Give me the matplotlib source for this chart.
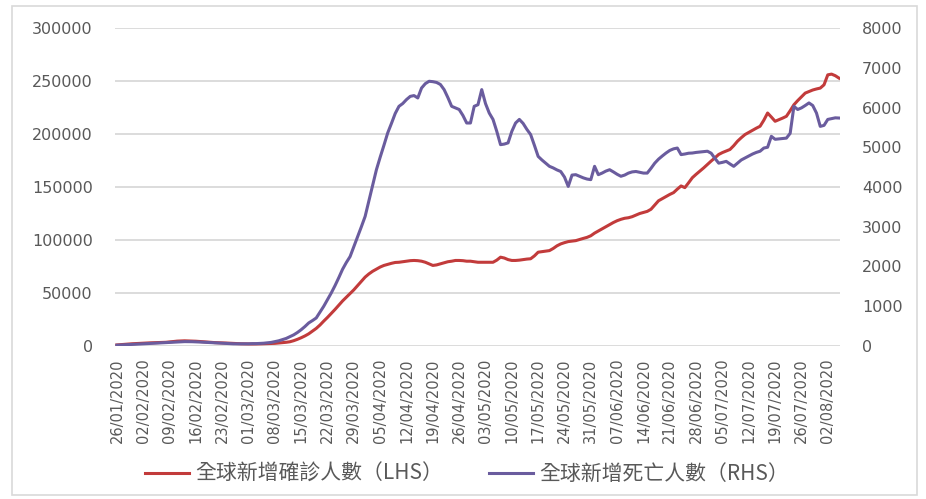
import matplotlib
matplotlib.use("Agg")
import matplotlib.pyplot as plt
from matplotlib.font_manager import FontProperties
from matplotlib.patches import Rectangle
import pandas as pd


START_DATE = "2020-01-26"

# daily global new confirmed cases (left axis)
NEW_CASES = [
    1000, 1300, 1600, 1900, 2100, 2300, 2500,
    2700, 2900, 3000, 3100, 3200, 3300, 3500,
    3800, 4200, 4600, 4800, 4900, 4800, 4600,
    4500, 4300, 4000, 3700, 3400, 3200, 3100,
    3000, 2800, 2600, 2400, 2200, 2100, 2000,
    2000, 1900, 1900, 2000, 2100, 2200, 2300,
    2500, 2800, 3100, 3500, 4000, 5000, 6300,
    7800, 9500, 11500, 14000, 16600, 19800, 23500,
    27000, 30700, 34500, 38500, 42500, 46000, 49400,
    53000, 57000, 61000, 65000, 68000, 70500, 72500,
    74500, 76000, 77000, 78000, 78800, 79000, 79500,
    80000, 80500, 80700, 80500, 80000, 79000, 77500,
    76000, 76500, 77500, 78500, 79500, 80000, 80700,
    80700, 80500, 80000, 80000, 79500, 79000, 79000,
    79000, 79000, 79000, 81000, 83800, 83000, 81500,
    80700, 80700, 81000, 81500, 82000, 82300, 85000,
    88500, 89000, 89500, 90000, 92000, 94500, 96300,
    97500, 98500, 99000, 99400, 100500, 101500, 102500,
    104000, 106500, 108500, 110400, 112500, 114500, 116500,
    118200, 119500, 120500, 121000, 122000, 123500, 125000,
    126000, 127000, 129000, 133000, 137000, 139000, 141000,
    143000, 144700, 148000, 151000, 149400, 154000, 158800,
    162000, 165000, 168000, 171300, 174500, 177500, 180700,
    182500, 184000, 185400, 189000, 193200, 196500, 199500,
    201500, 203500, 205500, 207300, 213000, 219800, 216000,
    212000, 213500, 215000, 216700, 222000, 227600, 231500,
    235000, 238600, 240000, 241500, 242500, 243300, 246400,
    255800, 256500, 255000, 252700,
]

# daily global new deaths (right axis)
NEW_DEATHS = [
    20, 25, 30, 35, 40, 45, 50,
    55, 60, 65, 70, 75, 80, 85,
    90, 95, 100, 105, 110, 110, 108,
    105, 100, 95, 90, 85, 80, 75,
    70, 65, 60, 55, 55, 55, 55,
    55, 60, 60, 65, 70, 80, 90,
    110, 130, 160, 190, 234, 280, 340,
    410, 490, 580, 640, 705, 850, 1000,
    1170, 1335, 1520, 1720, 1930, 2100, 2250,
    2500, 2750, 3000, 3260, 3650, 4050, 4435,
    4750, 5050, 5360, 5600, 5850, 6030, 6100,
    6200, 6280, 6300, 6240, 6490, 6600, 6660,
    6650, 6630, 6580, 6450, 6250, 6030, 5990,
    5950, 5800, 5610, 5610, 6030, 6070, 6450,
    6100, 5860, 5700, 5400, 5065, 5080, 5110,
    5400, 5610, 5700, 5600, 5450, 5320, 5050,
    4770, 4680, 4600, 4520, 4480, 4430, 4390,
    4250, 4015, 4300, 4310, 4270, 4230, 4200,
    4185, 4520, 4310, 4350, 4400, 4435, 4380,
    4320, 4270, 4300, 4350, 4380, 4390, 4370,
    4350, 4350, 4470, 4600, 4700, 4780, 4855,
    4920, 4960, 4980, 4815, 4830, 4850, 4855,
    4870, 4880, 4890, 4900, 4850, 4720, 4600,
    4620, 4645, 4580, 4520, 4600, 4680, 4730,
    4780, 4830, 4870, 4900, 4980, 5000, 5275,
    5200, 5210, 5220, 5230, 5350, 6030, 5950,
    5990, 6050, 6115, 6050, 5860, 5525, 5550,
    5700, 5720, 5740, 5735,
]

CASE_LABEL = "全球新增確診人數（LHS）"
DEATH_LABEL = "全球新增死亡人數（RHS）"
LEFT_TICKS = [0, 50000, 100000, 150000, 200000, 250000, 300000]
RIGHT_TICKS = [0, 1000, 2000, 3000, 4000, 5000, 6000, 7000, 8000]

CASE_COLOR = "#c23b3b"
DEATH_COLOR = "#6a5c9e"
TEXT_COLOR = "#595959"
GRID_COLOR = "#d9d9d9"
OUT_FILE = "out.png"


def main():
    dates = pd.date_range(START_DATE, periods=len(NEW_CASES), freq="D")
    tick_dates = dates[::7]

    fig = plt.figure(figsize=(9.26, 4.99), dpi=100)
    ax = fig.add_axes([115 / 926, 1 - 346 / 499, 725 / 926, 318 / 499])
    ax2 = ax.twinx()

    case_line, = ax.plot(dates, NEW_CASES, color=CASE_COLOR, linewidth=2.2,
                         solid_joinstyle="round")
    death_line, = ax2.plot(dates, NEW_DEATHS, color=DEATH_COLOR, linewidth=2.2,
                           solid_joinstyle="round")

    ax.set_ylim(0, 300000)
    ax2.set_ylim(0, 8000)
    ax.set_yticks(LEFT_TICKS)
    ax.set_yticklabels([str(v) for v in LEFT_TICKS])
    ax2.set_yticks(RIGHT_TICKS)
    ax2.set_yticklabels([str(v) for v in RIGHT_TICKS])

    ax.set_xlim(dates[0] - pd.Timedelta(hours=12), dates[-1] + pd.Timedelta(hours=6))
    ax.set_xticks(tick_dates)
    ax.set_xticklabels([d.strftime("%d/%m/%Y") for d in tick_dates], rotation=90)

    ax.yaxis.grid(True, color=GRID_COLOR, linewidth=1.3)
    ax.set_axisbelow(True)

    for axis in (ax, ax2):
        for spine in axis.spines.values():
            spine.set_visible(False)

    ax.tick_params(axis="y", length=0, pad=16, labelsize=11.5, labelcolor=TEXT_COLOR)
    ax2.tick_params(axis="y", length=0, pad=16, labelsize=11.5, labelcolor=TEXT_COLOR)
    ax.tick_params(axis="x", length=0, pad=9, labelsize=10.5, labelcolor=TEXT_COLOR)

    legend_font = FontProperties(family=["Noto Sans CJK TC", "DejaVu Sans"], size=15)
    fig.legend(
        handles=[case_line, death_line],
        labels=[CASE_LABEL, DEATH_LABEL],
        loc="center",
        bbox_to_anchor=(467 / 926, 1 - 474 / 499),
        ncol=2,
        frameon=False,
        handlelength=2.1,
        handletextpad=0.3,
        columnspacing=2.2,
        prop=legend_font,
        labelcolor=TEXT_COLOR,
    )

    fig.patches.append(Rectangle(
        (12 / 926, 1 - 495 / 499), 905 / 926, 489 / 499,
        transform=fig.transFigure, fill=False, edgecolor=GRID_COLOR, linewidth=1.2,
    ))

    fig.savefig(OUT_FILE, dpi=100)
    plt.close(fig)


if __name__ == "__main__":
    main()
